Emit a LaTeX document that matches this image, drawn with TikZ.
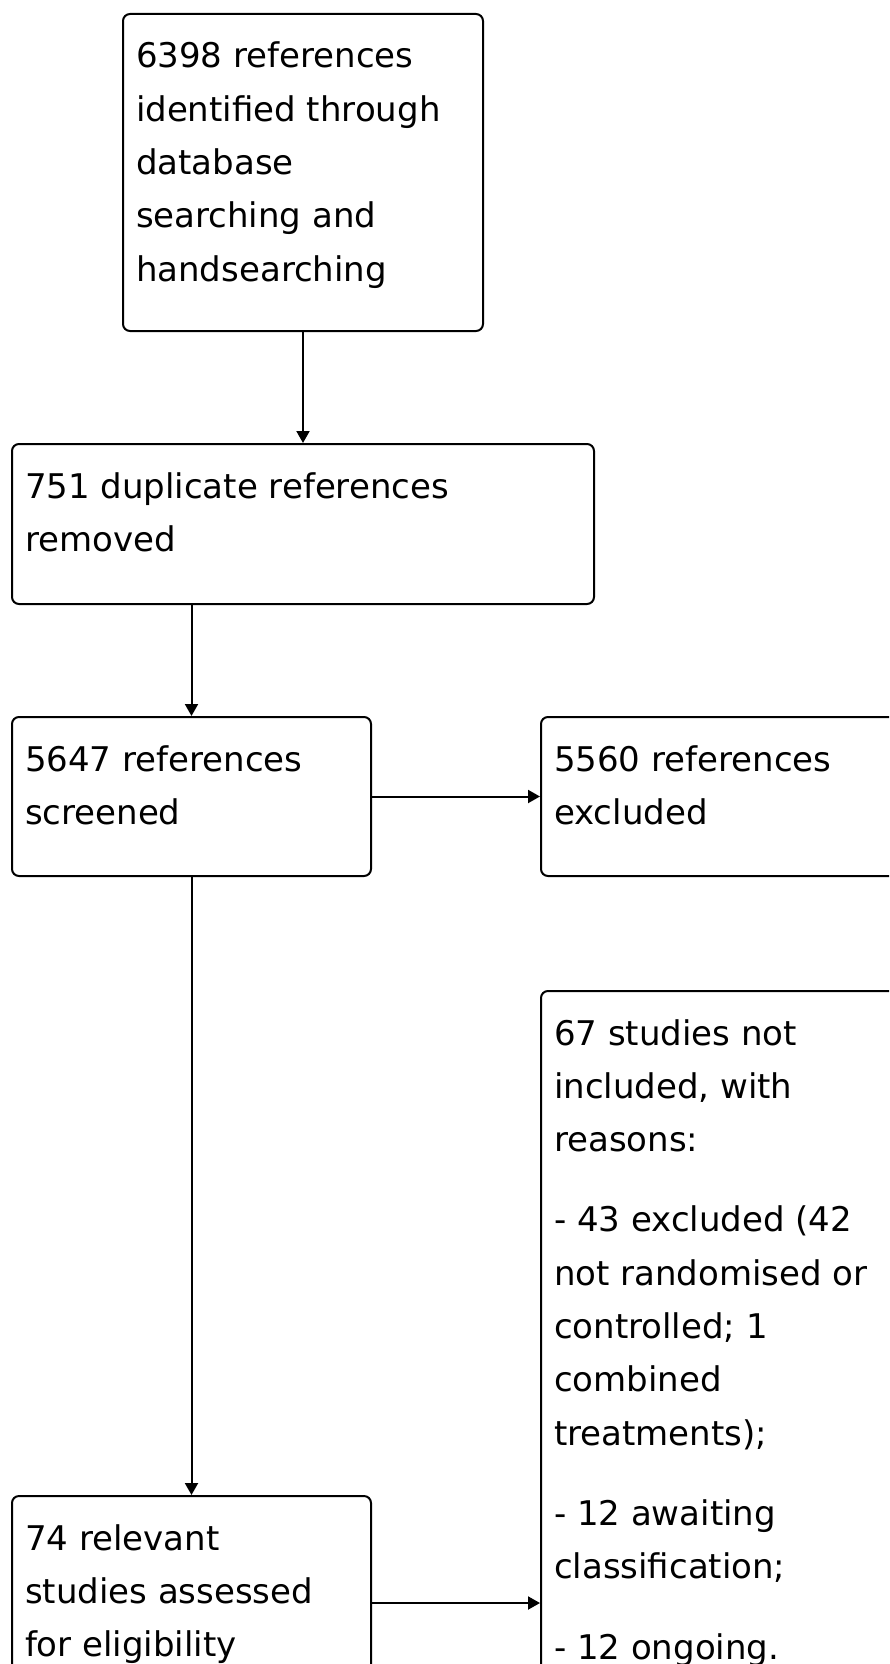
\documentclass[tikz,border=0pt]{standalone}
\usepackage{fontspec}
\setmainfont{DejaVu Sans}
\usetikzlibrary{arrows.meta}
\newcommand{\boxtext}[3]{\parbox[t][#1][t]{#2}{\raggedright\rule{0pt}{54pt}#3}}
\begin{document}
\begin{tikzpicture}[x=1pt,y=-1pt,
  box/.style={draw, line width=2pt, rounded corners=7pt, inner xsep=13pt, inner ysep=0pt,
    anchor=north west, fill=white, font=\fontsize{34}{53.3}\selectfont},
  conn/.style={line width=2pt, -{Triangle[length=12pt,width=13pt]}},
]
\clip (0,0) rectangle (889,1664);
\fill[white] (0,0) rectangle (889,1664);

\node[box] (A) at (122,13) {\boxtext{317pt}{334pt}{6398 references\\identified through\\database\\searching and\\handsearching}};
\node[box] (B) at (11,443) {\boxtext{160pt}{556pt}{751 duplicate references\\removed}};
\node[box] (C) at (11,716) {\boxtext{159pt}{333pt}{5647 references\\screened}};
\node[box] (D) at (540,716) {\boxtext{159pt}{334pt}{5560 references\\excluded}};
\node[box] (E) at (540,990) {\boxtext{740pt}{334pt}{67 studies not\\included, with\\reasons:\\[27pt]- 43 excluded (42\\not randomised or\\controlled; 1\\combined\\treatments);\\[27pt]- 12 awaiting\\classification;\\[27pt]- 12 ongoing.}};
\node[box] (F) at (11,1495) {\boxtext{214pt}{333pt}{74 relevant\\studies assessed\\for eligibility}};

\draw[conn] (A.south) -- (B.north);
\draw[conn] (B.south -| C.north) -- (C.north);
\draw[conn] (C.east) -- (D.west);
\draw[conn] (C.south) -- (F.north);
\draw[conn] (F.east) -- (F.east -| E.west);
\end{tikzpicture}
\end{document}
